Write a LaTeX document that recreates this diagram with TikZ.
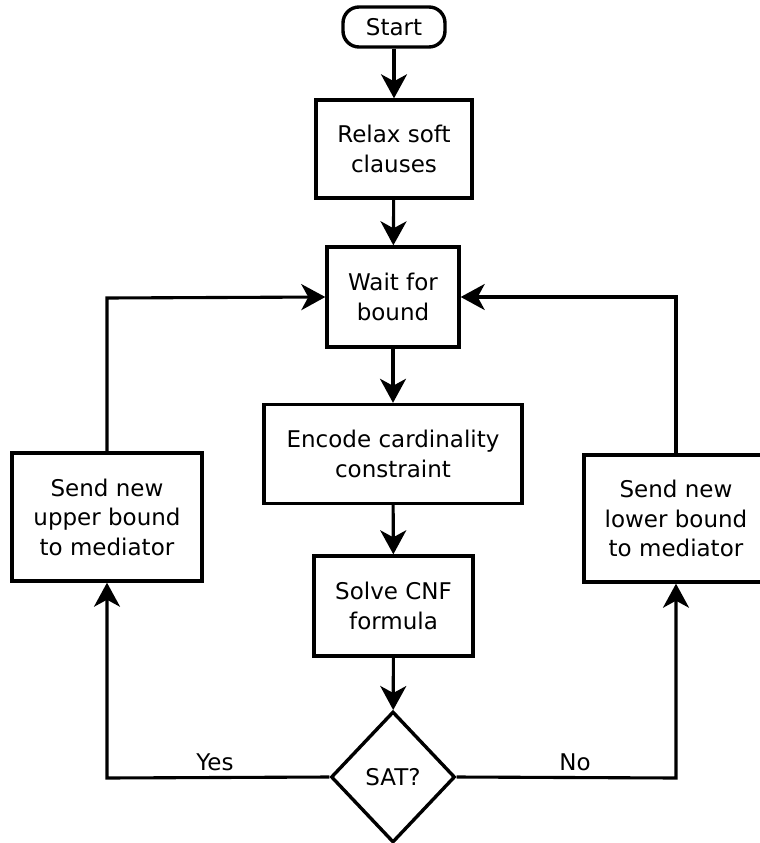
\documentclass[tikz,border=0pt]{standalone}
\usepackage{fontspec}
\setmainfont{DejaVu Sans}
\usetikzlibrary{shapes.geometric,arrows.meta}
\begin{document}
\begin{tikzpicture}[x=1pt,y=-1pt,
  every node/.style={font=\fontsize{23}{29.5}\selectfont, align=center, inner sep=0pt},
  box/.style={draw, line width=3.4pt, rectangle},
  term/.style={draw, line width=3.4pt, rounded corners=16pt},
  decide/.style={draw, line width=3.4pt, diamond, aspect=0.95},
  flow/.style={line width=3.1pt, -{Stealth[length=24pt,width=26pt,inset=7pt]}},
  lbl/.style={font=\fontsize{23}{28}\selectfont}]
\path[use as bounding box] (0,0) rectangle (760,843);
\clip (0,0) rectangle (760,843);
\fill[white] (0,0) rectangle (760,843);

\node[term, minimum width=102pt, minimum height=40pt] (start) at (394,27) {Start};
\node[box, minimum width=156pt, minimum height=98pt] (relax) at (394,149) {Relax soft\\clauses};
\node[box, minimum width=132pt, minimum height=100pt] (wait) at (393,297) {Wait for\\bound};
\node[box, minimum width=258pt, minimum height=99pt] (enc) at (393,454) {Encode cardinality\\constraint};
\node[box, minimum width=159pt, minimum height=100pt] (solve) at (393.5,606) {Solve CNF\\formula};
\node[decide, minimum width=124pt, minimum height=131pt] (sat) at (393,777) {SAT?};
\node[box, minimum width=190pt, minimum height=128pt] (up) at (107,517) {Send new\\upper bound\\to mediator};
\node[box, minimum width=184pt, minimum height=127pt] (low) at (676,518.5) {Send new\\lower bound\\to mediator};

\coordinate (ul) at (107,298);
\coordinate (ur) at (676,297);
\coordinate (sl) at (107,778);
\coordinate (sr) at (676,778);

\draw[flow] (start) -- (relax);
\draw[flow] (relax) -- (wait);
\draw[flow] (wait) -- (enc);
\draw[flow] (enc) -- (solve);
\draw[flow] (solve) -- (sat);
\draw[flow] (up.north) -- (ul) -- (wait.west);
\draw[flow] (low.north) -- (ur) -- (wait.east);
\draw[flow] (sat.west) -- (sl) -- (up.south);
\draw[flow] (sat.east) -- (sr) -- (low.south);

\node[lbl] (yes) at (215,762) {Yes};
\node[lbl] (no) at (575,762) {No};
\end{tikzpicture}
\end{document}
